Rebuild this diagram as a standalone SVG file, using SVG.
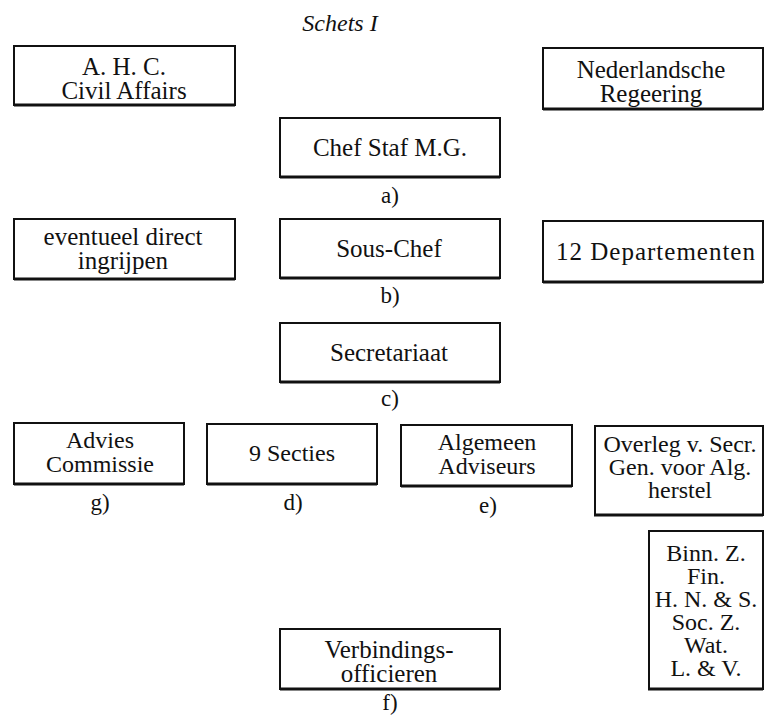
<svg xmlns="http://www.w3.org/2000/svg" width="764" height="715" viewBox="0 0 764 715">
<style>
.box{fill:#fff;stroke:#111;stroke-width:2}
.bot{stroke:#111;stroke-width:3}
text{font-family:"Liberation Serif","Times New Roman",serif;font-size:25px;fill:#111;text-anchor:middle}
.sm{font-size:24px}
.lbl{font-size:23px}
.title{font-style:italic;font-size:24px}
</style>
<rect width="764" height="715" fill="#fff"/>
<text class="title" x="340" y="31">Schets I</text>
<g id="ahc"><rect class="box" x="14" y="46" width="221" height="59"/><line class="bot" x1="14" y1="105" x2="235" y2="105"/><text x="124" y="75">A. H. C.</text><text x="124" y="99">Civil Affairs</text></g>
<g id="nedreg"><rect class="box" x="543" y="48" width="220" height="61"/><line class="bot" x1="543" y1="109" x2="763" y2="109"/><text x="651" y="78">Nederlandsche</text><text x="651" y="102">Regeering</text></g>
<g id="chef"><rect class="box" x="280" y="118" width="220" height="59"/><line class="bot" x1="280" y1="177" x2="500" y2="177"/><text x="390" y="156">Chef Staf M.G.</text></g>
<text class="lbl" x="390" y="203">a)</text>
<g id="eventueel"><rect class="box" x="14" y="219" width="221" height="60"/><line class="bot" x1="14" y1="279" x2="235" y2="279"/><text x="123" y="245">eventueel direct</text><text x="123" y="269">ingrijpen</text></g>
<g id="souschef"><rect class="box" x="280" y="219" width="220" height="59"/><line class="bot" x1="280" y1="278" x2="500" y2="278"/><text x="389" y="257">Sous-Chef</text></g>
<g id="departementen"><rect class="box" x="543" y="221" width="220" height="61"/><line class="bot" x1="543" y1="282" x2="763" y2="282"/><text x="656" y="260" style="letter-spacing:1px">12 Departementen</text></g>
<text class="lbl" x="390" y="303">b)</text>
<g id="secretariaat"><rect class="box" x="280" y="323" width="220" height="59"/><line class="bot" x1="280" y1="382" x2="500" y2="382"/><text x="389" y="361">Secretariaat</text></g>
<text class="lbl" x="390" y="406">c)</text>
<g id="advies"><rect class="box" x="14" y="423" width="170" height="61"/><line class="bot" x1="14" y1="484" x2="184" y2="484"/><text class="sm" x="100" y="448">Advies</text><text class="sm" x="100" y="472">Commissie</text></g>
<text class="lbl" x="100" y="510">g)</text>
<g id="secties"><rect class="box" x="207" y="424" width="170" height="60"/><line class="bot" x1="207" y1="484" x2="377" y2="484"/><text class="sm" x="292" y="461">9 Secties</text></g>
<text class="lbl" x="293" y="510">d)</text>
<g id="algemeen"><rect class="box" x="401" y="425" width="171" height="61"/><line class="bot" x1="401" y1="486" x2="572" y2="486"/><text class="sm" x="487" y="450">Algemeen</text><text class="sm" x="487" y="474">Adviseurs</text></g>
<text class="lbl" x="488" y="513">e)</text>
<g id="overleg"><rect class="box" x="595" y="426" width="168" height="89"/><line class="bot" x1="594" y1="515" x2="763" y2="515"/><text class="sm" x="680" y="452">Overleg v. Secr.</text><text class="sm" x="680" y="475">Gen. voor Alg.</text><text class="sm" x="680" y="498">herstel</text></g>
<g id="departlijst"><rect class="box" x="649" y="531" width="114" height="158"/><line class="bot" x1="648" y1="689" x2="763" y2="689"/><text class="sm" x="706" y="561">Binn. Z.</text><text class="sm" x="706" y="584">Fin.</text><text class="sm" x="706" y="607">H. N. &amp; S.</text><text class="sm" x="706" y="630">Soc. Z.</text><text class="sm" x="706" y="653">Wat.</text><text class="sm" x="706" y="676">L. &amp; V.</text></g>
<g id="verbindings"><rect class="box" x="280" y="629" width="220" height="60"/><line class="bot" x1="280" y1="689" x2="500" y2="689"/><text x="389" y="658">Verbindings-</text><text x="389" y="682">officieren</text></g>
<text class="lbl" x="390" y="710">f)</text>
<g id="connectors"></g>
</svg>
